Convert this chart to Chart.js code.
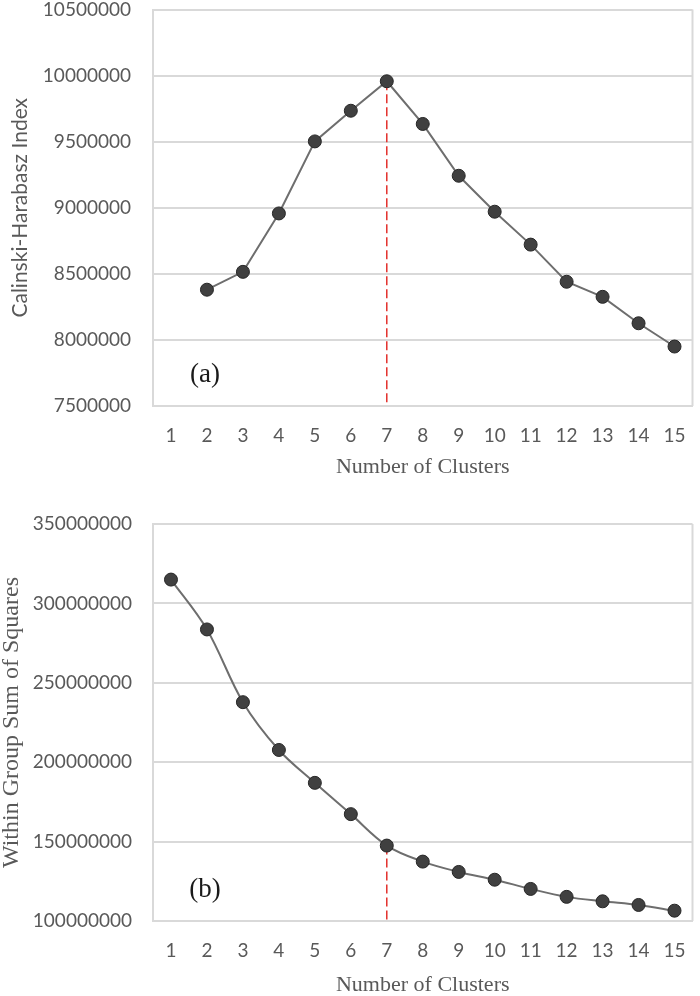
<!DOCTYPE html>
<html>
<head>
<meta charset="utf-8">
<script src="https://cdn.jsdelivr.net/npm/chart.js@4"></script>
<style>
  body { margin: 0; background: #fff; }
  canvas { display: block; }
</style>
</head>
<body>
<canvas id="chA" width="700" height="490"></canvas>
<canvas id="chB" width="700" height="506"></canvas>
<script>
// data
const clusters = ["1", "2", "3", "4", "5", "6", "7", "8", "9", "10", "11", "12", "13", "14", "15"];
const chIndex = [null, 8380000, 8515000, 8957000, 9502000, 9734000, 9957000, 9634000,
  9242000, 8970000, 8721000, 8440000, 8326000, 8126000, 7950000];
const wgss = [315000000, 283600000, 237800000, 207700000, 187000000, 167300000, 147500000,
  137400000, 130900000, 126000000, 120200000, 115200000, 112400000, 110100000, 106500000];
const chTicks = { min: 7500000, max: 10500000, step: 500000 };
const wgssTicks = { min: 100000000, max: 350000000, step: 50000000 };
const bestK = "7";

const GRID = "#d9d9d9";
const TEXT = "#595959";

// plot box right edge, red dashed marker at best k, and panel letter
function panelPlugin(letter) {
  return {
    id: "panel" + letter,
    beforeDatasetsDraw(chart) {
      const { ctx, chartArea, scales } = chart;
      const ds = chart.data.datasets[0].data;
      const idx = chart.data.labels.indexOf(bestK);
      const x = scales.x.getPixelForValue(idx);
      ctx.save();
      ctx.strokeStyle = GRID;
      ctx.lineWidth = 2;
      ctx.beginPath();
      ctx.moveTo(chartArea.right, chartArea.top);
      ctx.lineTo(chartArea.right, chartArea.bottom);
      ctx.stroke();

      ctx.strokeStyle = "#e3302c";
      ctx.lineWidth = 1.5;
      ctx.setLineDash([9, 4]);
      ctx.beginPath();
      ctx.moveTo(x, scales.y.getPixelForValue(ds[idx]));
      ctx.lineTo(x, chartArea.bottom);
      ctx.stroke();
      ctx.restore();
    },
    afterDraw(chart) {
      const { ctx, chartArea, scales } = chart;
      ctx.save();
      ctx.fillStyle = "#1a1a1a";
      ctx.font = "27px 'Liberation Serif'";
      ctx.textAlign = "center";
      ctx.textBaseline = "middle";
      ctx.fillText("(" + letter + ")", scales.x.getPixelForValue(1) - 2, chartArea.bottom - 31);
      ctx.restore();
    }
  };
}

function makeChart(id, values, yr, yTitle, yTitleFont, yTitlePad, tension, opts) {
  const ctx = document.getElementById(id).getContext("2d");
  return new Chart(ctx, {
    type: "line",
    data: {
      labels: clusters,
      datasets: [
        {
          data: values,
          borderColor: "#6e6e6e",
          borderWidth: 2,
          tension: tension,
          pointRadius: 6.5,
          pointHoverRadius: 6.5,
          pointBackgroundColor: "#404040",
          pointBorderColor: "#262626",
          pointBorderWidth: 1,
        },
      ],
    },
    options: {
      responsive: false,
      animation: false,
      devicePixelRatio: 1,
      layout: { padding: { top: opts.padTop, right: 3, left: 0, bottom: 0 } },
      plugins: { legend: { display: false }, tooltip: { enabled: false } },
      scales: {
        x: {
          offset: true,
          // invisible tick marks give the label gap (ticks.padding would add to layout padding)
          grid: { drawOnChartArea: false, drawTicks: true, tickLength: 20, tickColor: "rgba(0,0,0,0)" },
          border: { display: true, color: GRID, width: 2 },
          ticks: {
            color: TEXT,
            font: { family: "Lato", size: 19, lineHeight: 1 },
            padding: 0,
            maxRotation: 0,
          },
          title: {
            display: true,
            text: "Number of Clusters",
            color: TEXT,
            font: { family: "Liberation Serif", size: 22, lineHeight: 1 },
            padding: { top: 0, bottom: opts.xTitleBottom },
          },
          afterFit(scale) { scale.height = opts.xHeight; },
        },
        y: {
          min: yr.min,
          max: yr.max,
          grid: { color: GRID, lineWidth: 2, drawTicks: true, tickLength: opts.yPad, tickColor: "rgba(0,0,0,0)" },
          border: { display: true, color: GRID, width: 2 },
          ticks: {
            stepSize: yr.step,
            color: TEXT,
            font: { family: "Lato", size: 19, lineHeight: 1 },
            padding: 0,
            callback: (v) => String(v),
          },
          title: {
            display: true,
            text: yTitle,
            color: TEXT,
            font: yTitleFont,
            padding: { top: yTitlePad, bottom: 0 },
          },
          afterFit(scale) { scale.width = 153; },
        },
      },
    },
    plugins: [panelPlugin(opts.letter)],
  });
}

makeChart("chA", chIndex, chTicks, "Calinski-Harabasz Index",
  { family: "Lato", size: 21, lineHeight: 1 }, 10, 0,
  { padTop: 9, xHeight: 84, xTitleBottom: 12, yPad: 22, letter: "a" });

makeChart("chB", wgss, wgssTicks, "Within Group Sum of Squares",
  { family: "Liberation Serif", size: 24, lineHeight: 1 }, 0, 0.35,
  { padTop: 34, xHeight: 75, xTitleBottom: 0, yPad: 21, letter: "b" });
</script>
</body>
</html>
